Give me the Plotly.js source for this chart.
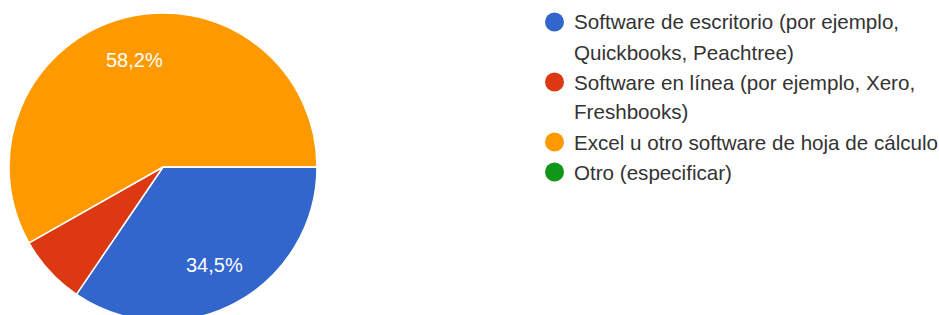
<!DOCTYPE html>
<html>
<head>
<meta charset="utf-8">
<script src="https://cdn.plot.ly/plotly-3.0.1.min.js"></script>
<style>
html,body{margin:0;padding:0;overflow:hidden;background:#fff;width:939px;height:315px;}
#chart{width:939px;height:330px;}
</style>
</head>
<body>
<div id="chart"></div>
<script>
// Data
const categories = [
  "Software de escritorio (por ejemplo, Quickbooks, Peachtree)",
  "Software en línea (por ejemplo, Xero, Freshbooks)",
  "Excel u otro software de hoja de cálculo",
  "Otro (especificar)"
];
const legendLines = [
  ["Software de escritorio (por ejemplo,", "Quickbooks, Peachtree)"],
  ["Software en línea (por ejemplo, Xero,", "Freshbooks)"],
  ["Excel u otro software de hoja de cálculo"],
  ["Otro (especificar)"]
];
const values = [34.5, 7.3, 58.2, 0];
const colors = ["#3366CC", "#DC3912", "#FF9900", "#109618"];
const shownLabels = [true, false, true, false];

// Geometry (pixels)
const W = 939, H = 330;
const cx = 163, cy = 167, r = 154;
const FONT = "Liberation Sans, Arial, Helvetica, sans-serif";

const px = x => x / W;
const py = y => 1 - y / H;

const pie = {
  type: "pie",
  labels: categories,
  values: values,
  sort: false,
  direction: "clockwise",
  rotation: 90,
  marker: {colors: colors, line: {color: "#ffffff", width: 1.5}},
  textinfo: "none",
  hoverinfo: "label+percent",
  showlegend: false,
  domain: {x: [px(cx - r), px(cx + r)], y: [py(cy + r), py(cy - r)]}
};

const total = values.reduce((a, b) => a + b, 0);
const annotations = [];
const shapes = [];

// Percentage labels placed along each slice's mid-angle
let cum = 0;
values.forEach((v, i) => {
  const mid = (90 + 360 * (cum + v / 2) / total) * Math.PI / 180;
  cum += v;
  if (!shownLabels[i]) return;
  const rr = 0.72 * r;
  annotations.push({
    xref: "paper", yref: "paper",
    x: px(cx + rr * Math.sin(mid)), y: py(cy - rr * Math.cos(mid)),
    xanchor: "center", yanchor: "middle",
    text: (v / total * 100).toFixed(1).replace(".", ",") + "%",
    showarrow: false,
    font: {family: FONT, size: 20, color: "#ffffff"}
  });
});

// Legend: circles + text lines
const legX = 554.5, textX = 572, firstY = 22, lineH = 30, dotR = 9.5;
let line = 0;
legendLines.forEach((lines, i) => {
  const y = firstY + line * lineH;
  shapes.push({
    type: "circle", xref: "paper", yref: "paper",
    x0: px(legX - dotR), x1: px(legX + dotR),
    y0: py(y + dotR), y1: py(y - dotR),
    fillcolor: colors[i], line: {width: 0}
  });
  lines.forEach(t => {
    annotations.push({
      xref: "paper", yref: "paper",
      x: px(textX), y: py(firstY + line * lineH),
      xanchor: "left", yanchor: "middle",
      text: t, showarrow: false,
      font: {family: FONT, size: 20.6, color: "#333333"}
    });
    line++;
  });
});

const layout = {
  width: W, height: H,
  margin: {l: 0, r: 0, t: 0, b: 0},
  paper_bgcolor: "#ffffff",
  showlegend: false,
  annotations: annotations,
  shapes: shapes
};

Plotly.newPlot("chart", [pie], layout, {displayModeBar: false, staticPlot: true});
</script>
</body>
</html>
